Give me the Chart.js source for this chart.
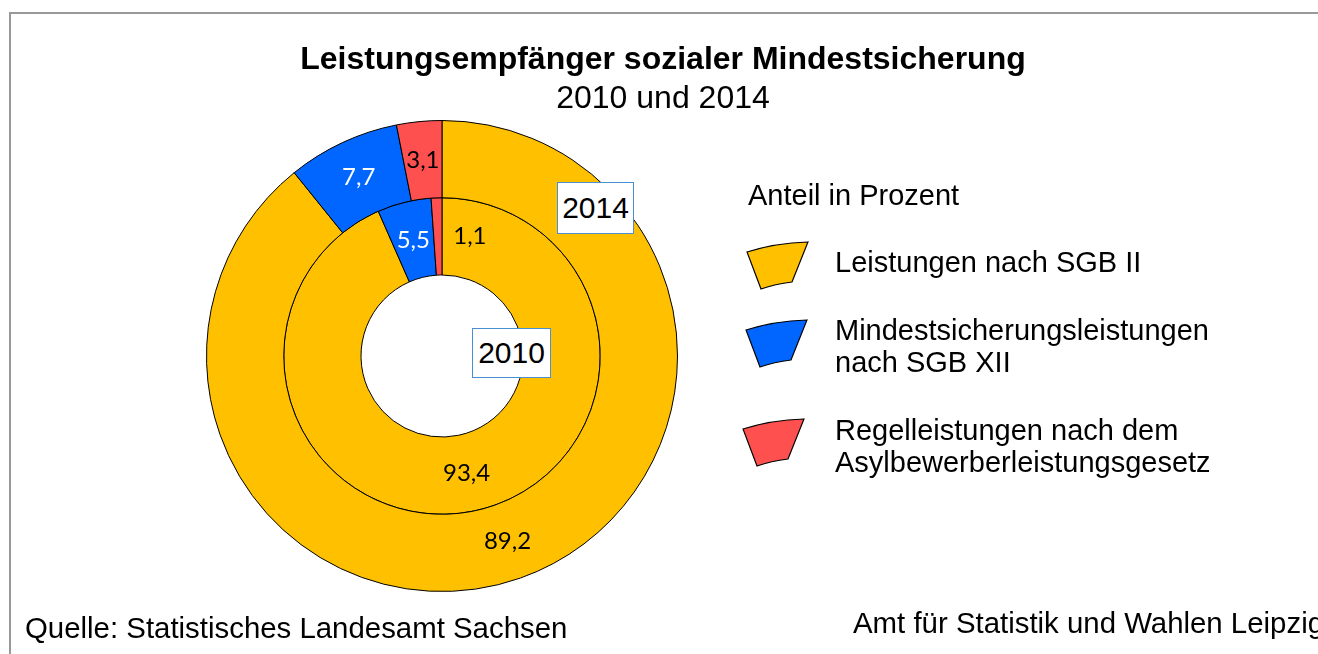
<!DOCTYPE html>
<html>
<head>
<meta charset="utf-8">
<script src="https://cdn.jsdelivr.net/npm/chart.js@4/dist/chart.umd.min.js"></script>
<style>
  body { margin: 0; background: #fff; }
  #wrap { position: relative; width: 1318px; height: 654px; overflow: hidden; font-family: "Liberation Sans", Arial, sans-serif; color: #000; }
  #frame { position: absolute; left: 9px; top: 12px; width: 1400px; height: 700px; border: 2px solid #999; }
  canvas { position: absolute; left: 0; top: 0; }
  .t { position: absolute; white-space: nowrap; }
  .lg { font-size: 29px; line-height: 32px; }
  .box { position: absolute; background: #fff; border: 1px solid #4a90d0; font-size: 30px; text-align: center; box-sizing: border-box; }
</style>
</head>
<body>
<div id="wrap">
  <div id="frame"></div>
  <canvas id="myChart" width="1318" height="654"></canvas>
  <div class="t" style="left:0;width:1326px;text-align:center;top:40px;font-size:32px;line-height:36px;font-weight:bold;">Leistungsempfänger sozialer Mindestsicherung</div>
  <div class="t" style="left:0;width:1326px;text-align:center;top:79px;font-size:32px;line-height:36px;">2010 und 2014</div>
  <div class="box" style="left:557px;top:182px;width:77px;height:52px;line-height:50px;">2014</div>
  <div class="box" style="left:472px;top:328px;width:79px;height:50px;line-height:48px;">2010</div>
  <div class="t lg" style="left:748px;top:179px;">Anteil in Prozent</div>
  <div class="t lg" style="left:835px;top:246px;">Leistungen nach SGB II</div>
  <div class="t lg" style="left:835px;top:314px;">Mindestsicherungsleistungen<br>nach SGB XII</div>
  <div class="t lg" style="left:835px;top:414px;">Regelleistungen nach dem<br>Asylbewerberleistungsgesetz</div>
  <div class="t" style="left:25px;top:612px;font-size:29.4px;line-height:32px;">Quelle: Statistisches Landesamt Sachsen</div>
  <div class="t" style="left:853px;top:607px;font-size:29.4px;line-height:32px;">Amt für Statistik und Wahlen Leipzig</div>
</div>
<script>
// Daten
var categories = ['Leistungen nach SGB II', 'Mindestsicherungsleistungen nach SGB XII', 'Regelleistungen nach dem Asylbewerberleistungsgesetz'];
var values2014 = [89.2, 7.7, 3.1];
var values2010 = [93.4, 5.5, 1.1];
var colors = ['#FFC000', '#0066FF', '#FF5050'];
var labelColors = ['#000', '#fff', '#000'];

// Wertbeschriftungen in den Segmenten
const valueLabels = {
    id: 'valueLabels',
    afterDatasetsDraw(chart) {
        const ctx = chart.ctx;
        ctx.save();
        ctx.font = '24px Lato, "Open Sans", sans-serif';
        ctx.textAlign = 'center';
        ctx.textBaseline = 'middle';
        chart.data.datasets.forEach(function (ds, di) {
            const meta = chart.getDatasetMeta(di);
            meta.data.forEach(function (arc, i) {
                const p = arc.tooltipPosition();
                let dx = 0;
                // kleiner Wert 2010 rechts daneben
                if (di == 1 && i == 2) dx = 32;
                ctx.fillStyle = labelColors[i];
                ctx.fillText(ds.data[i].toFixed(1).replace('.', ','), p.x + dx, p.y);
            });
        });
        ctx.restore();
    }
};

// Legendensymbole als Ringsegment
const legendWedges = {
    id: 'legendWedges',
    afterDraw(chart) {
        const ctx = chart.ctx;
        const anchors = [[747, 242], [746, 320], [743, 419]];
        ctx.save();
        anchors.forEach(function (a, i) {
            const x = a[0], y = a[1];
            ctx.beginPath();
            ctx.moveTo(x, y + 10);
            ctx.quadraticCurveTo(x + 28, y + 1, x + 61, y);
            ctx.lineTo(x + 45, y + 40);
            ctx.quadraticCurveTo(x + 28, y + 42, x + 14, y + 47);
            ctx.closePath();
            ctx.fillStyle = colors[i];
            ctx.fill();
            ctx.lineWidth = 1.2;
            ctx.strokeStyle = '#000';
            ctx.stroke();
        });
        ctx.restore();
    }
};

const ctx = document.getElementById('myChart');

new Chart(ctx, {
    type: 'doughnut',
    data: {
        labels: categories,
        datasets: [{
            label: '2014',
            data: values2014,
            backgroundColor: colors,
            borderColor: '#000',
            borderWidth: 1
        }, {
            label: '2010',
            data: values2010,
            backgroundColor: colors,
            borderColor: '#000',
            borderWidth: 1
        }]
    },
    options: {
        responsive: false,
        animation: false,
        events: [],
        cutout: 81,
        layout: { padding: { left: 206, top: 120, right: 640, bottom: 62 } },
        plugins: {
            legend: { display: false },
            title: { display: false },
            tooltip: { enabled: false }
        }
    },
    plugins: [valueLabels, legendWedges]
});
</script>
</body>
</html>
